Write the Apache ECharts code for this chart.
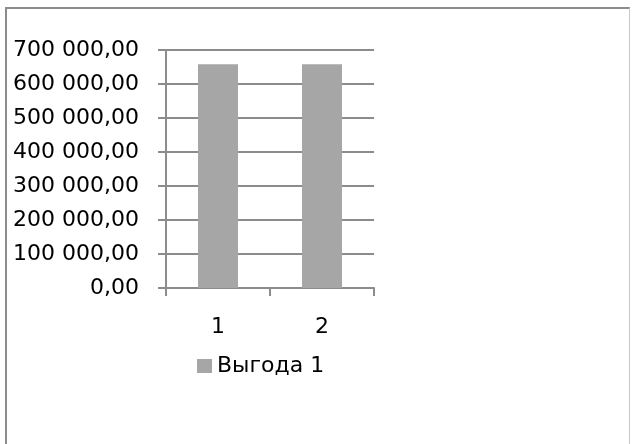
<!DOCTYPE html>
<html>
<head>
<meta charset="utf-8">
<script src="https://cdn.jsdelivr.net/npm/echarts@6/dist/echarts.min.js"></script>
<style>
  html, body { margin: 0; padding: 0; background: #fff; overflow: hidden; }
  #frame {
    position: absolute; left: 5px; top: 7px; width: 625px; height: 460px;
    border-left: 2px solid #8c8c8c; border-top: 2px solid #8c8c8c;
    border-right: 1px solid #c8c8c8; box-sizing: border-box;
  }
  #chart { position: absolute; left: 0; top: 0; width: 635px; height: 444px; }
</style>
</head>
<body>
<div id="frame"></div>
<div id="chart"></div>
<script>
// Categories and series values
var categories = ['1', '2'];
var seriesName = 'Выгода 1';
var benefitValues = [658000, 658000];
// Value axis range
var yMin = 0;
var yMax = 700000;
var yStep = 100000;

function fmt(v) {
  var s = Math.round(v).toString().replace(/\B(?=(\d{3})+(?!\d))/g, ' ');
  return s + ',00';
}

var chart = echarts.init(document.getElementById('chart'), null, { renderer: 'canvas' });
var lineColor = '#8c8c8c';
var font = 'DejaVu Sans';

chart.setOption({
  animation: false,
  grid: { left: 166, right: 261, top: 50, bottom: 156, containLabel: false },
  legend: {
    data: [seriesName],
    left: 197, top: 355, padding: 0,
    itemWidth: 15, itemHeight: 14, itemGap: 8,
    icon: 'rect',
    textStyle: { fontFamily: font, fontSize: 22, color: '#000', padding: [0, 0, 0, 0] }
  },
  xAxis: {
    type: 'category',
    data: categories,
    axisLine: { lineStyle: { color: lineColor, width: 2 } },
    axisTick: { show: true, alignWithLabel: false, length: 8, lineStyle: { color: lineColor, width: 2 } },
    axisLabel: { margin: 28, fontFamily: font, fontSize: 22, color: '#000' }
  },
  yAxis: {
    type: 'value',
    min: yMin, max: yMax, interval: yStep,
    axisLine: { show: true, lineStyle: { color: lineColor, width: 2 } },
    axisTick: { show: true, length: 8, lineStyle: { color: lineColor, width: 2 } },
    axisLabel: { margin: 27, fontFamily: font, fontSize: 22, color: '#000', formatter: fmt },
    splitLine: { show: true, lineStyle: { color: lineColor, width: 2 } }
  },
  series: [{
    name: seriesName,
    type: 'bar',
    data: benefitValues,
    barWidth: 40,
    itemStyle: { color: '#a6a6a6' }
  }]
});
</script>
</body>
</html>
